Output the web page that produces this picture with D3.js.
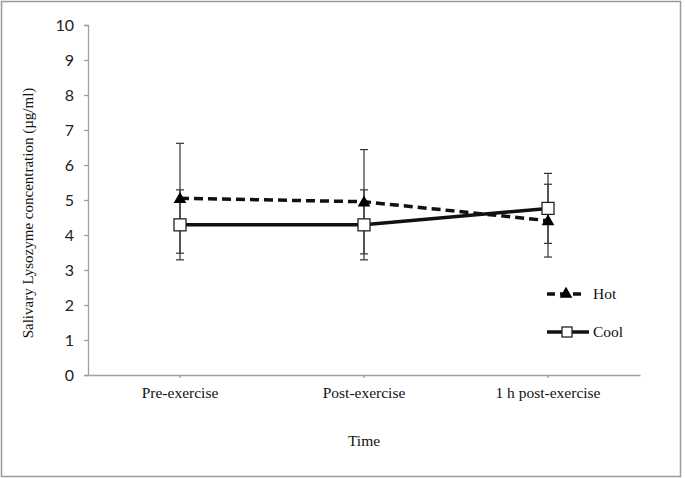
<!DOCTYPE html>
<html><head><meta charset="utf-8">
<script src="https://cdn.jsdelivr.net/npm/d3@7"></script>
<style>body{margin:0;background:#fff}svg{display:block}</style>
</head><body>
<svg id="c" width="685" height="478"></svg>
<script>
const categories = ["Pre-exercise", "Post-exercise", "1 h post-exercise"];
const hotMean = [5.05, 4.95, 4.41];
const hotErr = [1.57, 1.49, 1.04];
const coolMean = [4.29, 4.29, 4.76];
const coolErr = [1.0, 1.0, 1.0];
const yTicks = [0,1,2,3,4,5,6,7,8,9,10];
const seriesNames = ["Hot", "Cool"];

const serif = "'Liberation Serif', 'Times New Roman', serif";
const svg = d3.select("#c");
svg.append("rect").attr("x",1.5).attr("y",1.5).attr("width",679).attr("height",475)
  .attr("fill","#fff").attr("stroke","#9a9a9a").attr("stroke-width",1.5);

const x = d3.scaleBand().domain(categories).range([88, 640]);
const y = d3.scaleLinear().domain([0,10]).range([375, 25]);
const cx = c => x(c) + x.bandwidth()/2;

// Y axis
const ya = svg.append("g").attr("transform","translate(88,0)")
  .call(d3.axisLeft(y).tickValues(yTicks).tickSize(4).tickPadding(10));
ya.select(".domain").attr("stroke","#a0a0a0").attr("stroke-width",1.3);
ya.selectAll(".tick line").attr("stroke","#a0a0a0").attr("stroke-width",1.3);
ya.selectAll("text").attr("font-family","Lato, 'Open Sans', sans-serif").attr("font-size",16).attr("fill","#222");

// X axis
const xa = svg.append("g").attr("transform","translate(0,375)")
  .call(d3.axisBottom(x).tickSize(3).tickSizeOuter(0).tickPadding(9));
xa.select(".domain").attr("stroke","#a0a0a0").attr("stroke-width",1.3);
xa.selectAll(".tick line").attr("stroke","#a0a0a0").attr("stroke-width",1.3);
xa.selectAll("text").attr("font-family",serif).attr("font-size",15.5).attr("fill","#111");

// Titles
svg.append("text").attr("x",364).attr("y",446).attr("text-anchor","middle")
  .attr("font-family",serif).attr("font-size",15.5).attr("fill","#111").text("Time");
svg.append("text").attr("transform","translate(33,213) rotate(-90)").attr("text-anchor","middle")
  .attr("font-family",serif).attr("font-size",15).attr("fill","#111")
  .text("Salivary Lysozyme concentration (µg/ml)");

// error bars
function errBars(mean, err){
  const g = svg.append("g");
  categories.forEach((c,i)=>{
    const xc = cx(c), t = y(mean[i]+err[i]), b = y(mean[i]-err[i]);
    g.append("line").attr("x1",xc).attr("x2",xc).attr("y1",t).attr("y2",b).attr("stroke","#333").attr("stroke-width",1.2);
    [t,b].forEach(v=>g.append("line").attr("x1",xc-4).attr("x2",xc+4).attr("y1",v).attr("y2",v).attr("stroke","#333").attr("stroke-width",1.2));
  });
}
errBars(hotMean, hotErr);
errBars(coolMean, coolErr);

const line = d3.line();
const hotPts = categories.map((c,i)=>[cx(c), y(hotMean[i])]);
const coolPts = categories.map((c,i)=>[cx(c), y(coolMean[i])]);
svg.append("path").attr("d",line(hotPts)).attr("fill","none").attr("stroke","#111").attr("stroke-width",3.5).attr("stroke-dasharray","9,5");
svg.append("path").attr("d",line(coolPts)).attr("fill","none").attr("stroke","#111").attr("stroke-width",3.5);

const tri = d3.symbol().type(d3.symbolTriangle).size(70);
function triangle(g,xp,yp){ g.append("path").attr("d",tri()).attr("transform",`translate(${xp},${yp+1})`).attr("fill","#000"); }
function square(g,xp,yp,s){ g.append("rect").attr("x",xp-s/2).attr("y",yp-s/2).attr("width",s).attr("height",s).attr("fill","#fff").attr("stroke","#222").attr("stroke-width",1.3); }
hotPts.forEach(p=>triangle(svg,p[0],p[1]));
coolPts.forEach(p=>square(svg,p[0],p[1],12));

// legend
const lg = svg.append("g");
lg.append("line").attr("x1",547).attr("x2",585).attr("y1",294).attr("y2",294).attr("stroke","#111").attr("stroke-width",3.5).attr("stroke-dasharray","8,5");
triangle(lg,566,293);
lg.append("text").attr("x",593).attr("y",299).attr("font-family",serif).attr("font-size",15.5).attr("fill","#111").text(seriesNames[0]);
lg.append("line").attr("x1",547).attr("x2",589).attr("y1",332).attr("y2",332).attr("stroke","#111").attr("stroke-width",3.5);
square(lg,567,332,10);
lg.append("text").attr("x",593).attr("y",337).attr("font-family",serif).attr("font-size",15.5).attr("fill","#111").text(seriesNames[1]);
</script>
</body></html>
